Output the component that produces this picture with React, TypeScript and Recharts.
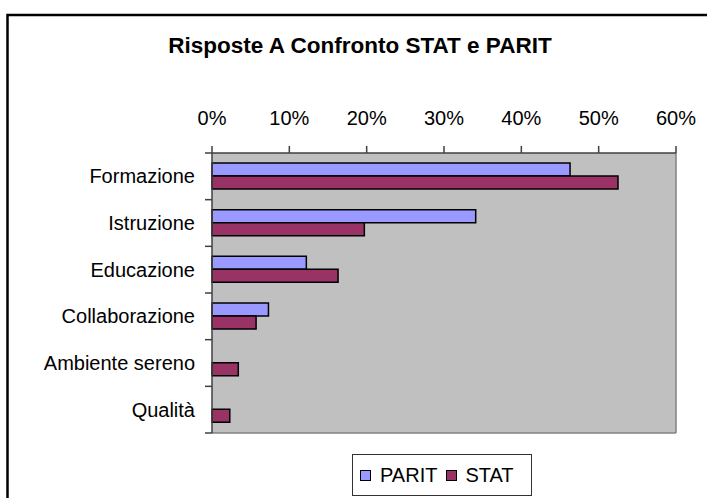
import React from 'react'
import { BarChart, Bar, XAxis, YAxis, CartesianGrid, Legend } from 'recharts'

const categories = ['Formazione', 'Istruzione', 'Educazione', 'Collaborazione', 'Ambiente sereno', 'Qualità']
const paritValues = [0.463, 0.341, 0.122, 0.073, 0, 0]
const statValues = [0.525, 0.197, 0.163, 0.057, 0.034, 0.023]
const xTicks = [0, 0.1, 0.2, 0.3, 0.4, 0.5, 0.6]

const FONT = '"Liberation Sans", Arial, sans-serif'
const PARIT_COLOR = '#9999FF'
const STAT_COLOR = '#993366'

const data = categories.map((name, i) => ({
    name,
    PARIT: paritValues[i],
    STAT: statValues[i],
}))

// etichetta categoria + tacche tra le categorie (stile Excel)
const CategoryTick = (props: any) => {
    const { x, y, payload, index } = props
    const half = (payload && payload.offset) || 0
    const lx1 = x + 10
    const lx2 = x + 17
    return (
        <g>
            <text x={x} y={y} dy="0.355em" textAnchor="end" fontSize={20} fontFamily={FONT} fill="#000">
                {payload.value}
            </text>
            <line x1={lx1} x2={lx2} y1={y - half} y2={y - half} stroke="#404040" strokeWidth={1.5} />
            {index === categories.length - 1 && (
                <line x1={lx1} x2={lx2} y1={y + half} y2={y + half} stroke="#404040" strokeWidth={1.5} />
            )}
        </g>
    )
}

const LegendBox = () => (
    <div
        style={{
            width: 178,
            height: 40,
            border: '1px solid #333',
            display: 'flex',
            alignItems: 'center',
            fontFamily: FONT,
            fontSize: 20,
            color: '#000',
            background: '#fff',
            boxSizing: 'content-box',
        }}
    >
        <span style={{ width: 9, height: 9, marginLeft: 7, border: '1.5px solid #000', background: PARIT_COLOR }} />
        <span style={{ marginLeft: 9 }}>PARIT</span>
        <span style={{ width: 9, height: 9, marginLeft: 9, border: '1.5px solid #000', background: STAT_COLOR }} />
        <span style={{ marginLeft: 8 }}>STAT</span>
    </div>
)

export default function App() {
    return (
        <div style={{ position: 'absolute', left: 0, top: 0, width: 707, height: 498, background: '#fff', overflow: 'hidden' }}>
            <BarChart
                width={707}
                height={498}
                data={data}
                layout="vertical"
                margin={{ top: 0, right: 31, bottom: 65, left: 0 }}
                barCategoryGap={10}
                barGap={0}
            >
                <CartesianGrid
                    fill="#C0C0C0"
                    stroke="#808080"
                    strokeWidth={1.5}
                    verticalCoordinatesGenerator={({ offset }: any) => [offset.left + offset.width]}
                    horizontalCoordinatesGenerator={({ offset }: any) => [offset.top + offset.height]}
                />
                <XAxis
                    type="number"
                    orientation="top"
                    domain={[0, 0.6]}
                    ticks={xTicks}
                    height={153}
                    tickSize={7}
                    tickMargin={21}
                    tickFormatter={(v: number) => `${Math.round(v * 100)}%`}
                    tick={{ fontSize: 20, fontFamily: FONT, fill: '#000' }}
                    stroke="#404040"
                    strokeWidth={1.5}
                />
                <YAxis
                    type="category"
                    dataKey="name"
                    width={212}
                    tickSize={7}
                    tickMargin={10}
                    tickLine={false}
                    interval={0}
                    tick={<CategoryTick />}
                    stroke="#404040"
                    strokeWidth={1.5}
                />
                <Bar dataKey="PARIT" fill={PARIT_COLOR} stroke="#000" strokeWidth={1.5} isAnimationActive={false} />
                <Bar dataKey="STAT" fill={STAT_COLOR} stroke="#000" strokeWidth={1.5} isAnimationActive={false} />
                <Legend
                    layout="horizontal"
                    verticalAlign="middle"
                    align="center"
                    content={<LegendBox />}
                    wrapperStyle={{ position: 'absolute', left: 352, top: 454, width: 180, height: 42, bottom: 'auto' }}
                />
            </BarChart>
            <svg width={707} height={498} style={{ position: 'absolute', left: 0, top: 0, pointerEvents: 'none' }}>
                <rect x={7.5} y={15} width={760} height={560} fill="none" stroke="#000" strokeWidth={2.5} />
                <text x={360} y={53} textAnchor="middle" fontSize={22.5} fontWeight="bold" fontFamily={FONT} fill="#000">
                    Risposte A Confronto STAT e PARIT
                </text>
            </svg>
        </div>
    )
}
